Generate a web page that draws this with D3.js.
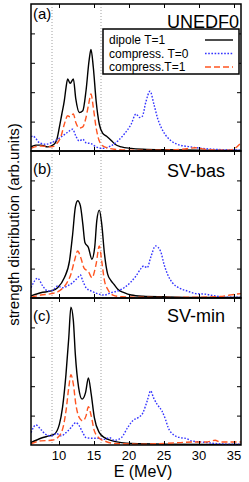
<!DOCTYPE html>
<html>
<head>
<meta charset="utf-8">
<script src="https://cdn.jsdelivr.net/npm/d3@7"></script>
<style>
  body { margin: 0; background: #fff; }
  text { font-family: "Liberation Sans", Arial, sans-serif; fill: #000; }
</style>
</head>
<body>
<div id="chart"></div>
<script>
// Strength distributions, three Skyrme parametrisations

// Data: [E (MeV), strength]
var panelNames = ["UNEDF0", "SV-bas", "SV-min"];
var panelTags = ["(a)", "(b)", "(c)"];
var seriesNames = ["dipole T=1", "compress. T=0", "compress.T=1"];
var xTicks = [10, 15, 20, 25, 30, 35];
var yTicks = [1, 2, 3, 4];
var guideE = [9, 16];

var dipoleA = [[6,0.14],[6.7,0.2],[7.4,0.2],[8.4,0.14],[9.3,0.23],[9.7,0.4],[10.05,0.8],[10.4,1.25],[10.76,1.71],[11.0,2.15],[11.24,2.45],[11.6,2.3],[12.05,2.45],[12.4,1.77],[12.9,1.31],[13.4,1.37],[13.86,2.05],[14.3,3.08],[14.57,3.45],[14.9,2.85],[15.3,1.71],[15.76,0.91],[16.2,0.62],[16.8,0.5],[17.5,0.35],[18,0.23],[18.9,0.14],[20.3,0.09],[22,0.06],[25,0.04],[30,0.03],[36,0.02]];
var compT0A = [[6,0.48],[6.3,0.51],[6.7,0.42],[7.2,0.28],[8.1,0.23],[8.9,0.28],[9.8,0.4],[10.5,0.51],[11.2,0.63],[11.95,0.74],[12.4,0.51],[12.9,0.34],[13.4,0.4],[13.86,0.28],[14.57,0.25],[15.3,0.14],[16.2,0.09],[17.4,0.17],[18.4,0.34],[19.3,0.57],[20.3,0.91],[21.0,1.26],[21.5,1.14],[21.9,1.18],[22.4,1.66],[23.0,2.03],[23.6,1.55],[24.1,1.1],[24.6,0.8],[25.2,0.55],[26,0.35],[27,0.22],[28.5,0.15],[30,0.1],[32,0.06],[36,0.03]];
var compT1A = [[6,0.09],[6.7,0.15],[7.4,0.17],[8.9,0.14],[9.6,0.23],[10.3,0.51],[10.76,0.91],[11.24,1.2],[11.6,1.16],[12.05,1.26],[12.4,0.97],[12.9,0.78],[13.4,0.82],[13.86,1.14],[14.24,1.6],[14.57,1.94],[14.9,1.48],[15.3,0.8],[15.76,0.34],[16.5,0.14],[17.9,0.06],[20,0.03],[25,0.03],[28,0.07],[29.5,0.11],[31,0.05],[33,0.03],[34.4,0.03],[35.3,0.12],[36,0.28]];

var dipoleB = [[6,0.07],[7.4,0.18],[8.9,0.24],[9.8,0.35],[10.76,0.69],[11.5,1.26],[11.95,2.17],[12.33,3.08],[12.67,3.31],[13.05,3.14],[13.4,2.52],[13.7,1.89],[14.2,1.72],[14.7,1.32],[15.1,1.72],[15.4,2.63],[15.76,2.99],[16.1,2.52],[16.5,1.49],[16.95,0.81],[17.4,0.6],[17.9,0.45],[18.4,0.3],[19.3,0.18],[20.3,0.1],[22,0.06],[25,0.04],[30,0.02],[36,0.02]];
var compT0B = [[6,0.35],[6.95,0.67],[7.67,0.41],[8.4,0.24],[9.1,0.26],[9.8,0.41],[10.5,0.35],[11.2,0.41],[11.95,0.52],[12.67,0.69],[13.05,0.78],[13.4,0.58],[13.86,0.35],[14.57,0.24],[15.5,0.15],[16.5,0.1],[17.4,0.18],[18.4,0.24],[19.3,0.35],[20.3,0.55],[21.0,0.75],[21.7,1.0],[22.1,1.09],[22.6,1.03],[23.1,1.38],[23.8,1.77],[24.5,1.6],[25.0,1.15],[25.5,0.81],[26.2,0.52],[27.1,0.35],[28.3,0.24],[29.5,0.15],[30.9,0.13],[32.3,0.07],[34.2,0.03],[36,0.03]];
var compT1B = [[6,0.03],[7.4,0.1],[8.9,0.15],[10.05,0.24],[11.0,0.47],[11.7,0.81],[12.2,1.26],[12.67,1.6],[13.1,1.38],[13.6,1.01],[14.2,0.9],[14.7,0.69],[15.3,1.15],[15.76,1.77],[16.1,1.26],[16.5,0.58],[16.95,0.3],[17.7,0.1],[19,0.04],[25,0.02],[30,0.03],[33,0.05],[34.4,0.1],[35.3,0.13],[36,0.15]];

var dipoleC = [[6,0.08],[7.4,0.23],[8.6,0.31],[9.3,0.36],[10.05,0.7],[10.5,1.27],[11.0,2.41],[11.4,3.66],[11.7,4.69],[12.05,4.23],[12.33,3.09],[12.8,1.96],[13.3,1.56],[13.8,1.79],[14.2,2.28],[14.6,1.73],[15.05,0.93],[15.76,0.42],[16.5,0.25],[17.4,0.16],[18.9,0.08],[20.3,0.05],[25,0.03],[36,0.02]];
var compT0C = [[6,0.42],[6.7,0.68],[7.4,0.53],[8.1,0.36],[8.9,0.31],[9.6,0.39],[10.3,0.31],[11.0,0.42],[11.7,0.59],[12.4,0.76],[12.9,0.65],[13.4,0.42],[13.86,0.25],[14.6,0.23],[15.5,0.23],[16.5,0.19],[17.2,0.25],[17.9,0.16],[18.9,0.25],[19.8,0.59],[20.6,0.84],[21.3,0.93],[22.0,1.1],[22.6,1.5],[23.1,1.84],[23.5,1.61],[24.0,1.39],[24.7,1.16],[25.2,0.88],[25.6,0.59],[26.3,0.36],[27.3,0.25],[28.2,0.22],[28.9,0.14],[30.5,0.1],[32.4,0.05],[34.2,0.03],[36,0.03]];
var compT1C = [[6,0.04],[7.4,0.14],[8.9,0.16],[9.8,0.25],[10.5,0.53],[11.0,1.16],[11.4,1.96],[11.7,2.39],[12.05,2.07],[12.4,1.39],[12.9,0.93],[13.4,0.82],[13.86,0.99],[14.2,1.3],[14.6,0.99],[15.05,0.48],[15.76,0.23],[16.7,0.12],[18,0.05],[22,0.03],[27.1,0.08],[29,0.1],[31,0.1],[32.3,0.16],[33,0.1],[34.5,0.1],[36,0.1]];

var panelData = [
  [dipoleA, compT0A, compT1A],
  [dipoleB, compT0B, compT1B],
  [dipoleC, compT0C, compT1C]
];

// line styles for dipole / T=0 / T=1
var colors = ["#000000", "#3333ff", "#ff5522"];
var dashes = [null, "1.6,1.6", "6,3"];
var widths = [1.4, 1.4, 1.4];

// SVG area
var svgWidth = 249;
var svgHeight = 482;
var margin = { top: 4, right: 8, bottom: 37, left: 31 };
var width = svgWidth - margin.left - margin.right;
var height = svgHeight - margin.top - margin.bottom;
var panelHeight = height / 3;

var svg = d3.select("#chart")
  .append("svg")
  .attr("width", svgWidth)
  .attr("height", svgHeight);

var chartGroup = svg.append("g")
  .attr("transform", `translate(${margin.left}, ${margin.top})`);

// scales
var xScale = d3.scaleLinear().domain([6, 36]).range([0, width]);
var yScale = d3.scaleLinear().domain([0, 5]).range([panelHeight, 0]);

var line = d3.line()
  .x(d => xScale(d[0]))
  .y(d => yScale(d[1]))
  .curve(d3.curveMonotoneX);

svg.append("defs").append("clipPath")
  .attr("id", "clip")
  .append("rect")
  .attr("width", width)
  .attr("height", panelHeight);

panelData.forEach(function(series, i) {
  var g = chartGroup.append("g")
    .attr("transform", `translate(0, ${i * panelHeight})`);

  // dotted guide lines
  g.selectAll("line.guide")
    .data(guideE)
    .enter()
    .append("line")
    .attr("class", "guide")
    .attr("x1", d => xScale(d))
    .attr("x2", d => xScale(d))
    .attr("y1", 0)
    .attr("y2", panelHeight)
    .attr("stroke", "#888")
    .attr("stroke-width", 0.8)
    .attr("stroke-dasharray", "1,2");

  // curves
  var plot = g.append("g").attr("clip-path", "url(#clip)");
  series.forEach(function(pts, k) {
    plot.append("path")
      .datum(pts)
      .attr("d", line)
      .attr("fill", "none")
      .attr("stroke", colors[k])
      .attr("stroke-width", widths[k])
      .attr("stroke-dasharray", dashes[k]);
  });

  // inward ticks on all four sides
  g.append("g")
    .attr("transform", `translate(0, ${panelHeight})`)
    .call(d3.axisBottom(xScale).tickValues(xTicks).tickSizeInner(-4).tickSizeOuter(0).tickFormat(""));
  g.append("g")
    .call(d3.axisTop(xScale).tickValues(xTicks).tickSizeInner(-4).tickSizeOuter(0).tickFormat(""));
  g.append("g")
    .call(d3.axisLeft(yScale).tickValues(yTicks).tickSizeInner(-4).tickSizeOuter(0).tickFormat(""));
  g.append("g")
    .attr("transform", `translate(${width}, 0)`)
    .call(d3.axisRight(yScale).tickValues(yTicks).tickSizeInner(-4).tickSizeOuter(0).tickFormat(""));
  g.selectAll(".domain").remove();

  // frame
  g.append("rect")
    .attr("width", width)
    .attr("height", panelHeight)
    .attr("fill", "none")
    .attr("stroke", "#000")
    .attr("stroke-width", 1.5);

  // panel labels
  g.append("text")
    .attr("x", 2)
    .attr("y", [15, 23, 23][i])
    .attr("font-size", "15px")
    .text(panelTags[i]);

  g.append("text")
    .attr("x", 136)
    .attr("y", [24, 26, 24][i])
    .attr("font-size", "18px")
    .text(panelNames[i]);
});

// bottom tick labels
chartGroup.selectAll("text.xtick")
  .data(xTicks)
  .enter()
  .append("text")
  .attr("class", "xtick")
  .attr("x", d => xScale(d))
  .attr("y", height + 15)
  .attr("text-anchor", "middle")
  .attr("font-size", "13px")
  .text(d => d);

// legend
var legend = chartGroup.append("g")
  .attr("transform", "translate(72, 25)");

legend.append("rect")
  .attr("width", 136)
  .attr("height", 45)
  .attr("fill", "#fff")
  .attr("stroke", "#000")
  .attr("stroke-width", 1.5);

seriesNames.forEach(function(name, k) {
  legend.append("text")
    .attr("x", 6)
    .attr("y", 15 + k * 13.5)
    .attr("font-size", "12px")
    .text(name);
  legend.append("line")
    .attr("x1", 102)
    .attr("x2", 130)
    .attr("y1", 11 + k * 13.5)
    .attr("y2", 11 + k * 13.5)
    .attr("stroke", colors[k])
    .attr("stroke-width", widths[k])
    .attr("stroke-dasharray", dashes[k]);
});

// axis labels
chartGroup.append("text")
  .attr("transform", "rotate(-90)")
  .attr("x", -height / 2)
  .attr("y", -12)
  .attr("text-anchor", "middle")
  .attr("font-size", "15px")
  .text("strength distribution (arb.units)");

chartGroup.append("text")
  .attr("x", 112)
  .attr("y", height + 32)
  .attr("text-anchor", "middle")
  .attr("font-size", "16px")
  .text("E (MeV)");
</script>
</body>
</html>
